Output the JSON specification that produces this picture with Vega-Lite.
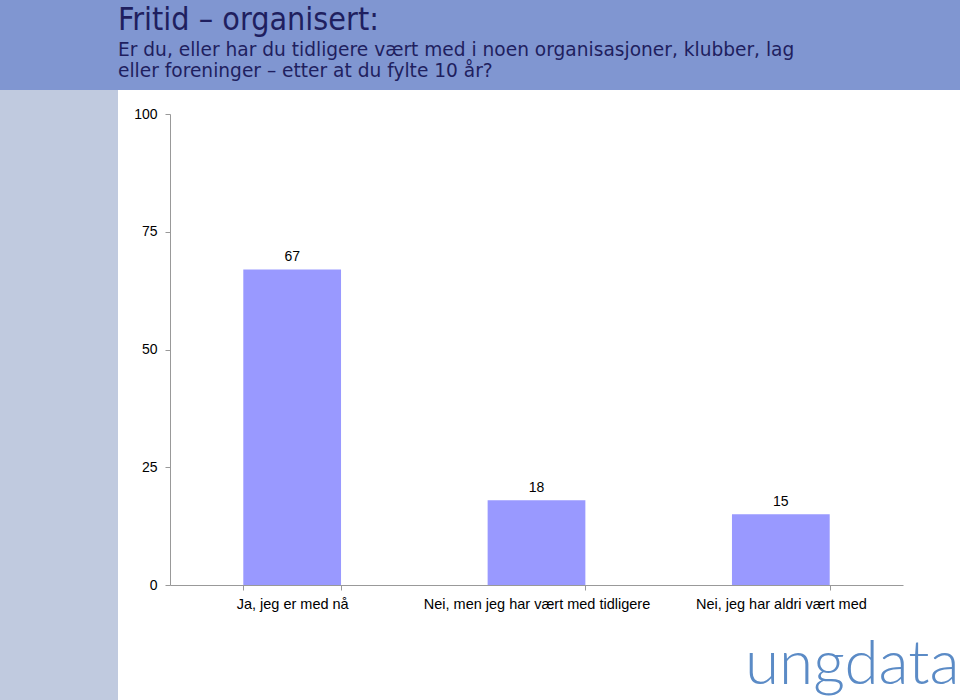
{
  "$schema": "https://vega.github.io/schema/vega-lite/v6.json",
  "background": "white",
  "padding": 0,
  "spacing": 0,
  "config": {"view": {"stroke": null}, "concat": {"spacing": 0}},
  "vconcat": [
    {
      "width": 960,
      "height": 90,
      "view": {"fill": "#8096D1", "stroke": null},
      "title": {
        "text": "Fritid – organisert:",
        "subtitle": [
          "Er du, eller har du tidligere vært med i noen organisasjoner, klubber, lag",
          "eller foreninger – etter at du fylte 10 år?"
        ],
        "anchor": "start",
        "frame": "group",
        "orient": "top",
        "offset": -82,
        "dx": 118,
        "font": "DejaVu Sans Condensed",
        "fontSize": 32,
        "fontWeight": "normal",
        "color": "#1F1F5F",
        "subtitleFont": "DejaVu Sans",
        "subtitleFontSize": 18.6,
        "subtitleColor": "#1F1F5F",
        "subtitlePadding": 4,
        "subtitleLineHeight": 21.5
      },
      "data": {"values": [{"t": ""}]},
      "mark": {"type": "text"},
      "encoding": {"text": {"field": "t"}}
    },
    {
      "spacing": 15,
      "hconcat": [
        {
          "width": 118,
          "height": 610,
          "view": {"fill": "#C0CADF", "stroke": null},
          "data": {"values": [{"t": ""}]},
          "mark": {"type": "text"},
          "encoding": {"text": {"field": "t"}}
        },
        {
          "width": 733,
          "height": 495,
          "data": {
            "values": [
              {"svar": "Ja, jeg er med nå", "prosent": 67},
              {"svar": "Nei, men jeg har vært med tidligere", "prosent": 18},
              {"svar": "Nei, jeg har aldri vært med", "prosent": 15}
            ]
          },
          "encoding": {
            "x": {
              "field": "svar",
              "type": "nominal",
              "sort": null,
              "scale": {"paddingInner": 0.6, "paddingOuter": 0.3},
              "axis": {
                "title": "ungdata",
                "titleFont": "Lato",
                "titleFontWeight": 300,
                "titleFontSize": 62,
                "titleColor": "#5B8BC6",
                "titleAlign": "right",
                "titleBaseline": "alphabetic",
                "titleX": 789,
                "titleY": 98,
                "labelAngle": 0,
                "labelFont": "Liberation Sans",
                "labelFontSize": 14.5,
                "labelColor": "#000000",
                "labelPadding": 7,
                "labelLimit": 0,
                "labelOverlap": false,
                "tickBand": "extent",
                "tickSize": 5,
                "tickColor": "#999999",
                "domainColor": "#999999"
              }
            },
            "y": {
              "field": "prosent",
              "type": "quantitative",
              "scale": {"domain": [0, 100], "range": [495, 24]},
              "axis": {
                "values": [0, 25, 50, 75, 100],
                "title": null,
                "grid": false,
                "tickSize": 5,
                "labelPadding": 8,
                "labelFont": "Liberation Sans",
                "labelFontSize": 14,
                "labelColor": "#000000",
                "tickColor": "#999999",
                "domainColor": "#999999"
              }
            }
          },
          "layer": [
            {"mark": {"type": "bar", "color": "#9999FF"}},
            {
              "mark": {"type": "text", "dy": -12, "font": "Liberation Sans", "fontSize": 14, "color": "#000000"},
              "encoding": {"text": {"field": "prosent", "type": "quantitative"}}
            }
          ]
        }
      ]
    }
  ]
}
